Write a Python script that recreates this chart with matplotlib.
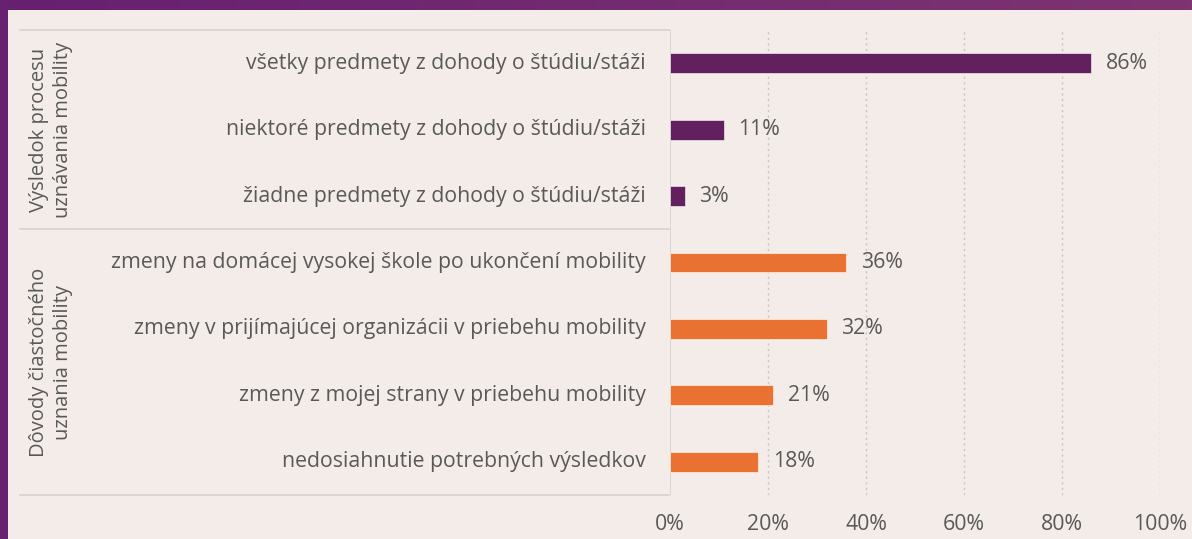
import numpy as np
import matplotlib.pyplot as plt
from matplotlib.patches import Rectangle
from matplotlib.lines import Line2D
from matplotlib.colors import LinearSegmentedColormap

plt.rcParams['font.family'] = ['Open Sans', 'DejaVu Sans']

# data, top to bottom
labels = [
    'všetky predmety z dohody o štúdiu/stáži',
    'niektoré predmety z dohody o štúdiu/stáži',
    'žiadne predmety z dohody o štúdiu/stáži',
    'zmeny na domácej vysokej škole po ukončení mobility',
    'zmeny v prijímajúcej organizácii v priebehu mobility',
    'zmeny z mojej strany v priebehu mobility',
    'nedosiahnutie potrebných výsledkov',
]
values = [86, 11, 3, 36, 32, 21, 18]
groups = ['Výsledok procesu\nuznávania mobility', 'Dôvody čiastočného\nuznania mobility']
group_sizes = [3, 4]
xticks = [0, 20, 40, 60, 80, 100]

PURPLE = '#63205F'
ORANGE = '#E97132'
BG = '#F4ECE8'
TXT = '#595959'
LINE = '#D3D3D3'
FS = 15.3

W, H = 1192, 539
fig = plt.figure(figsize=(W / 100, H / 100), dpi=100, facecolor=BG)

# purple frame: top band (gradient) + left strip
band = fig.add_axes([0, 1 - 10 / H, 1, 10 / H])
cmap = LinearSegmentedColormap.from_list('band', ['#672070', '#7E3470'])
band.imshow(np.linspace(0, 1, 256)[None, :], aspect='auto', cmap=cmap)
band.axis('off')
fig.patches.append(Rectangle((0, 0), 8 / W, 1, transform=fig.transFigure,
                             facecolor='#682070', edgecolor='none'))

top_px, bot_px = 30, 495
left_px, right_px = 670, 1160
ax = fig.add_axes([left_px / W, 1 - bot_px / H,
                   (right_px - left_px) / W, (bot_px - top_px) / H])
ax.set_facecolor(BG)

n = len(values)
ypos = np.arange(n)
colors = [PURPLE] * group_sizes[0] + [ORANGE] * group_sizes[1]
ax.barh(ypos, values, height=0.30, color=colors, edgecolor='#FFFFFF',
        linewidth=0.4, zorder=3)
for y, v in zip(ypos, values):
    ax.text(v + 3, y, f'{v}%', va='center', ha='left', fontsize=FS, color=TXT)

ax.set_xlim(0, 100)
ax.set_ylim(n - 0.5, -0.5)
ax.set_xticks(xticks)
ax.set_xticklabels([f'{t}%' for t in xticks], fontsize=FS, color=TXT)
ax.tick_params(axis='x', length=0, pad=14)
ax.set_yticks([])
for s in ax.spines.values():
    s.set_visible(False)
for t in xticks[1:]:
    ax.axvline(t, color='#C4C4C4', lw=1, ls=(0, (1.5, 2.5)), zorder=1)
ax.axvline(0, color=LINE, lw=1.2, zorder=2)

# category labels
for y, lab in zip(ypos, labels):
    ax.text(-5, y, lab, ha='right', va='center', fontsize=FS, color=TXT,
            transform=ax.transData, clip_on=False)

# group box lines (in figure pixels)
def hline(ypx):
    fig.lines.append(Line2D([20 / W, 669 / W], [1 - ypx / H] * 2,
                            transform=fig.transFigure, color=LINE, lw=1.2))

row_h = (bot_px - top_px) / n
bounds = [top_px]
for g in group_sizes:
    bounds.append(bounds[-1] + g * row_h)
for b in bounds:
    hline(b)

for i, g in enumerate(groups):
    yc = (bounds[i] + bounds[i + 1]) / 2
    fig.text(51 / W, 1 - yc / H, g, rotation=90, ha='center', va='center',
             fontsize=14.5, color=TXT, linespacing=1.3, multialignment='center')

fig.savefig('out.png', dpi=100, facecolor=BG)
